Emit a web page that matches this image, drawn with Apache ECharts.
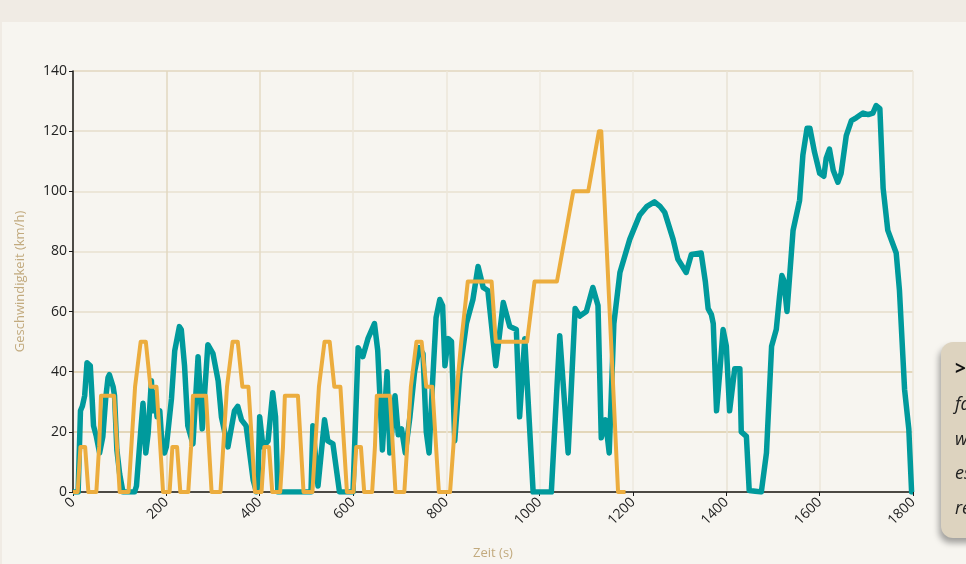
<!DOCTYPE html>
<html>
<head>
<meta charset="utf-8">
<script src="https://cdn.jsdelivr.net/npm/echarts@6/dist/echarts.min.js"></script>
<style>
  html, body { margin: 0; padding: 0; background: #f0ebe4; }
  #chart { width: 966px; height: 564px; }
</style>
</head>
<body>
<div id="chart"></div>
<script>
// WLTP (Klasse 3) – Zeit in s, Geschwindigkeit in km/h
const wltpTime = [
  0, 11, 16, 20, 25, 30, 34, 37, 41, 44, 50, 57, 64, 70, 75, 78, 86, 89, 94, 100, 107,
  132, 136, 141, 146, 150, 156, 161, 168, 171, 176, 180, 186, 191, 196, 200, 211, 218, 228, 232,
  239, 246, 257, 268, 277, 289, 300, 311, 318, 332, 346, 353, 361, 371, 386, 393,
  396, 400, 407, 418, 428, 434, 439, 510, 514, 525, 539, 546, 557, 571, 600,
  611, 621, 632, 646, 653, 657, 663, 673, 679, 690, 697, 704, 712, 722, 732, 742, 750, 757, 763, 770, 778,
  786, 792, 797, 804, 811, 818, 829, 843, 857, 868, 879, 889, 906, 922, 936, 950, 957, 968, 986, 1025,
  1043, 1061, 1076, 1086, 1100, 1114, 1125, 1132, 1141, 1149, 1159, 1172, 1193, 1214, 1230, 1246, 1258,
  1268, 1286, 1296, 1314, 1325, 1346, 1355, 1361, 1368, 1372, 1379, 1386, 1393, 1400, 1407, 1418, 1429,
  1432, 1443, 1449, 1475, 1486, 1497, 1507, 1514, 1519, 1523, 1530, 1543, 1557, 1564, 1573, 1579, 1589,
  1600, 1609, 1614, 1621, 1629, 1639, 1646, 1657, 1668, 1679, 1693, 1704, 1714, 1721, 1729, 1736, 1746,
  1764, 1771, 1782, 1791, 1797, 1800
];
const wltpSpeed = [
  0, 0, 27, 28.5, 32, 43, 43.5, 42, 31, 22, 18.5, 13, 18.5, 31, 38, 39, 35, 32, 14, 6, 0,
  0, 2, 12, 22, 29.5, 13, 19.5, 37, 27, 33, 25, 27, 15, 13, 15, 31, 47, 55, 54,
  42, 22, 16, 45, 21, 49, 46, 37, 25, 15, 27, 28.5, 24, 22, 4, 0,
  2, 25, 15, 17, 33, 25, 0, 0, 22, 2, 24, 17, 16, 0, 0,
  48, 45, 51, 56, 47, 34, 14, 40, 13, 32, 19, 21, 13, 25, 40, 48, 46, 20, 13, 35, 58,
  64, 62, 42, 51, 50, 17, 40, 56, 64, 75, 68, 67, 42, 63, 55, 54, 25, 51, 0, 0,
  52, 13, 61, 58.5, 60, 68, 62, 18, 24, 13, 56, 73, 84, 92, 95, 96.5, 95,
  93, 84, 77.5, 73, 79, 79.5, 70, 61, 59, 56, 27, 40, 54, 48.5, 27, 41, 41,
  20, 18.5, 0.5, 0, 13, 48.5, 54, 65, 72, 70.5, 60, 87, 97, 112, 121, 121, 113,
  106, 105, 111, 114, 107, 103, 106, 118.5, 123.5, 124.5, 126, 125.5, 126, 128.5, 127.5, 101, 87,
  79.5, 67, 34, 21, 0, 0
];

// NEFZ – Zeit in s, Geschwindigkeit in km/h
const nefzTime = [
  0, 10, 16, 26, 33, 50, 56, 60, 88, 100, 119, 125, 133, 145, 156, 166, 179, 193,
  207, 213, 223, 230, 247, 253, 257, 285, 297, 316, 322, 330, 342, 353, 363, 376, 390,
  404, 410, 420, 427, 444, 450, 454, 482, 494, 513, 519, 527, 539, 550, 560, 573, 587,
  601, 607, 617, 624, 641, 647, 651, 679, 691, 710, 716, 724, 736, 747, 757, 770, 784,
  808, 815, 823, 832, 846, 897, 906, 973, 989, 1037, 1072, 1104, 1127, 1132, 1168, 1184
];
const nefzSpeed = [
  0, 0, 15, 15, 0, 0, 15, 32, 32, 0, 0, 15, 35, 50, 50, 35, 35, 0,
  0, 15, 15, 0, 0, 15, 32, 32, 0, 0, 15, 35, 50, 50, 35, 35, 0,
  0, 15, 15, 0, 0, 15, 32, 32, 0, 0, 15, 35, 50, 50, 35, 35, 0,
  0, 15, 15, 0, 0, 15, 32, 32, 0, 0, 15, 35, 50, 50, 35, 35, 0,
  0, 15, 35, 50, 70, 70, 50, 50, 70, 70, 100, 100, 120, 120, 0, 0
];

const xTicks = [0, 200, 400, 600, 800, 1000, 1200, 1400, 1600, 1800];
const yTicks = [0, 20, 40, 60, 80, 100, 120, 140];

const infoLines = ["fahren", "wie", "es", "real"];

const wltpData = wltpTime.map((t, i) => [t, wltpSpeed[i]]);
const nefzData = nefzTime.map((t, i) => [t, nefzSpeed[i]]);

const chart = echarts.init(document.getElementById("chart"), null, { renderer: "canvas" });

const labelFont = "Open Sans";
const tan = "#c2aa7e";

const option = {
  animation: false,
  backgroundColor: "#f0ebe4",
  textStyle: { fontFamily: labelFont },
  grid: { left: 73, right: 53, top: 71, bottom: 72, containLabel: false, outerBoundsMode: "none" },
  graphic: [
    {
      type: "rect",
      z: -10,
      shape: { x: 2, y: 22, width: 966, height: 560 },
      style: { fill: "#f7f5f0" },
      silent: true,
    },
    {
      type: "group",
      z: 100,
      children: [
        {
          type: "rect",
          shape: { x: 941, y: 342, width: 80, height: 196, r: 12 },
          style: {
            fill: "#ddd3bf",
            shadowBlur: 6,
            shadowOffsetX: -2,
            shadowOffsetY: 5,
            shadowColor: "rgba(0,0,0,0.35)",
          },
        },
        {
          type: "text",
          style: {
            x: 955, y: 370, text: "> Hinweis", fill: "#111",
            font: "bold 19px 'Open Sans'", verticalAlign: "middle",
          },
        },
        ...infoLines.map((s, i) => ({
          type: "text",
          style: {
            x: 955, y: 405 + i * 34.5, text: s, fill: "#222",
            font: "italic 18px 'Open Sans'", verticalAlign: "middle",
          },
        })),
      ],
    },
  ],
  xAxis: {
    type: "value",
    min: 0,
    max: 1800,
    interval: 200,
    name: "Zeit (s)",
    nameLocation: "middle",
    nameGap: 55,
    nameTextStyle: { color: tan, fontSize: 13, fontFamily: labelFont },
    axisLine: { show: true, lineStyle: { color: "#1a1a1a", width: 1.5 } },
    axisTick: { show: true, length: 4, lineStyle: { color: "#1a1a1a" } },
    axisLabel: {
      rotate: 45,
      color: "#222",
      fontSize: 14,
      fontFamily: labelFont,
      margin: 8,
      formatter: (v) => (xTicks.includes(v) ? String(v) : ""),
    },
    splitLine: {
      show: true,
      lineStyle: {
        color: ["#e2d7c0", "#e2d7c0", "#e4dac5", "#ece6da", "#ece6da", "#eee9df", "#eee9df", "#e9e2d4", "#ece6da", "#ece6da"],
        width: 1.5,
      },
    },
  },
  yAxis: {
    type: "value",
    min: 0,
    max: 140,
    interval: 20,
    name: "Geschwindigkeit (km/h)",
    nameLocation: "middle",
    nameGap: 46,
    nameTextStyle: { color: tan, fontSize: 13, fontFamily: labelFont },
    axisLine: { show: true, lineStyle: { color: "#1a1a1a", width: 1.5 } },
    axisTick: { show: true, length: 4, lineStyle: { color: "#1a1a1a" } },
    axisLabel: {
      color: "#222",
      fontSize: 14,
      fontFamily: labelFont,
      margin: 6,
      formatter: (v) => (yTicks.includes(v) ? String(v) : ""),
    },
    splitLine: {
      show: true,
      lineStyle: {
        color: ["#ded0b4", "#dccca9", "#dccca9", "#e6dccb", "#e8e0d0", "#e8e0d0", "#e6dccb", "#e2d6bf"],
        width: 1.5,
      },
    },
  },
  series: [
    {
      name: "WLTP",
      type: "line",
      data: wltpData,
      showSymbol: false,
      smooth: false,
      z: 3,
      lineStyle: { color: "#009a9c", width: 5.5, join: "round" },
      itemStyle: { color: "#009a9c" },
    },
    {
      name: "NEFZ",
      type: "line",
      data: nefzData,
      showSymbol: false,
      smooth: false,
      z: 4,
      lineStyle: { color: "#ecad3e", width: 4, join: "round" },
      itemStyle: { color: "#ecad3e" },
    },
  ],
};

chart.setOption(option);
</script>
</body>
</html>
